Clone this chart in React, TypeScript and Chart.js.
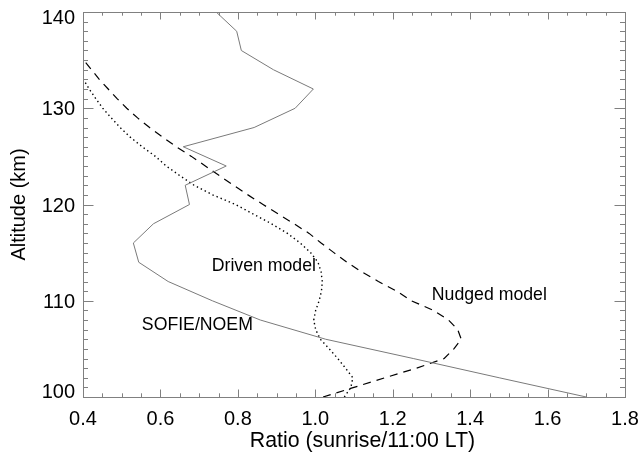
import React, { useEffect, useRef } from "react";
import { Chart, registerables } from "chart.js";

Chart.register(...registerables);

// SOFIE/NOEM observed ratio (solid)
const sofieAltitude = [100, 102, 104, 106, 108, 110, 112, 114, 116, 118, 120, 122, 124, 126, 128, 130, 132, 134, 136, 138, 140];
const sofieRatio = [1.70, 1.475, 1.253, 1.027, 0.858, 0.734, 0.62, 0.544, 0.53, 0.582, 0.675, 0.664, 0.77, 0.659, 0.842, 0.948, 0.995, 0.892, 0.809, 0.797, 0.744];

// Driven model (dotted)
const drivenAltitude = [100, 101, 102, 103, 104, 105, 106, 107, 108, 109, 110, 111, 112, 113, 114, 115, 116, 117, 118, 119, 120, 121, 122, 123, 124, 125, 126, 127, 128, 129, 130, 131, 132, 133, 133.1];
const drivenRatio = [1.075, 1.092, 1.097, 1.078, 1.058, 1.036, 1.013, 1.001, 0.996, 1.001, 1.01, 1.016, 1.018, 1.015, 1.007, 0.988, 0.961, 0.928, 0.887, 0.84, 0.794, 0.735, 0.687, 0.65, 0.615, 0.587, 0.553, 0.522, 0.496, 0.473, 0.451, 0.433, 0.416, 0.401, 0.4];

// Nudged model (dashed)
const nudgedAltitude = [100, 101, 102, 103, 104, 105, 106, 107, 108, 109, 110, 111, 112, 113, 114, 115, 116, 117, 118, 119, 120, 121, 122, 123, 124, 125, 126, 127, 128, 129, 130, 131, 132, 133, 134, 135];
const nudgedRatio = [1.02, 1.10, 1.18, 1.262, 1.333, 1.358, 1.377, 1.368, 1.344, 1.305, 1.248, 1.21, 1.163, 1.12, 1.082, 1.048, 1.015, 0.984, 0.945, 0.905, 0.865, 0.826, 0.789, 0.752, 0.716, 0.68, 0.641, 0.606, 0.572, 0.541, 0.513, 0.488, 0.465, 0.442, 0.422, 0.402];

const xTickValues = [0.4, 0.6, 0.8, 1.0, 1.2, 1.4, 1.6, 1.8];
const xTickLabels = ["0.4", "0.6", "0.8", "1.0", "1.2", "1.4", "1.6", "1.8"];
const yTickValues = [100, 110, 120, 130, 140];
const yTickLabels = ["100", "110", "120", "130", "140"];

const xTitle = "Ratio (sunrise/11:00 LT)";
const yTitle = "Altitude (km)";

const seriesLabels = ["SOFIE/NOEM", "Driven model", "Nudged model"];

const FONT = "'Liberation Sans', Arial, Helvetica, sans-serif";
const AXIS_COLOR = "#808080";

const toPoints = (xs: number[], ys: number[]) => xs.map((v, i) => ({ x: v, y: ys[i] }));

const idlAxesPlugin = {
  id: "idlAxes",
  afterDraw(chart: any) {
    const ctx = chart.ctx as CanvasRenderingContext2D;
    const xs = chart.scales.x;
    const ys = chart.scales.y;
    const { left, right, top, bottom } = chart.chartArea;
    ctx.save();
    ctx.strokeStyle = AXIS_COLOR;
    ctx.lineWidth = 1;
    ctx.strokeRect(Math.round(left) + 0.5, Math.round(top) + 0.5, Math.round(right - left), Math.round(bottom - top));

    const xMaj = 7.5, xMin = 3.7, yMaj = 10.5, yMin = 5;
    ctx.beginPath();
    for (let i = 0; i <= 28; i++) {
      const v = 0.4 + i * 0.05;
      const px = Math.round(xs.getPixelForValue(v)) + 0.5;
      const len = i % 4 === 0 ? xMaj : xMin;
      ctx.moveTo(px, bottom);
      ctx.lineTo(px, bottom - len);
      ctx.moveTo(px, top);
      ctx.lineTo(px, top + len);
    }
    for (let a = 100; a <= 140; a++) {
      const py = Math.round(ys.getPixelForValue(a)) + 0.5;
      const len = a % 10 === 0 ? yMaj : yMin;
      ctx.moveTo(left, py);
      ctx.lineTo(left + len, py);
      ctx.moveTo(right, py);
      ctx.lineTo(right - len, py);
    }
    ctx.stroke();

    ctx.fillStyle = "#000";
    ctx.font = `20px ${FONT}`;
    ctx.textBaseline = "alphabetic";
    ctx.textAlign = "center";
    xTickValues.forEach((v, i) => {
      ctx.fillText(xTickLabels[i], xs.getPixelForValue(v), bottom + 28);
    });
    ctx.textAlign = "right";
    yTickValues.forEach((v, i) => {
      let py = ys.getPixelForValue(v) + 7.2;
      if (i === 0) py = ys.getPixelForValue(v) + 0.5;
      if (i === yTickValues.length - 1) py = ys.getPixelForValue(v) + 11.5;
      ctx.fillText(yTickLabels[i], left - 8, py);
    });

    ctx.textAlign = "center";
    ctx.font = `21.3px ${FONT}`;
    ctx.fillText(xTitle, (left + right) / 2 + 8.5, bottom + 50);
    ctx.save();
    ctx.translate(25, (top + bottom) / 2);
    ctx.rotate(-Math.PI / 2);
    ctx.font = `20px ${FONT}`;
    ctx.fillText(yTitle, 0, 0);
    ctx.restore();

    ctx.font = `17.7px ${FONT}`;
    ctx.textAlign = "left";
    ctx.fillText(seriesLabels[0], xs.getPixelForValue(0.552), ys.getPixelForValue(107.0));
    ctx.fillText(seriesLabels[1], xs.getPixelForValue(0.7326), ys.getPixelForValue(113.08));
    ctx.fillText(seriesLabels[2], xs.getPixelForValue(1.301), ys.getPixelForValue(110.04));
    ctx.restore();
  },
};

export default function App() {
  const ref = useRef<HTMLCanvasElement | null>(null);
  useEffect(() => {
    if (!ref.current) return;
    const chart = new Chart(ref.current, {
      type: "scatter",
      data: {
        datasets: [
          {
            label: seriesLabels[0],
            data: toPoints(sofieRatio, sofieAltitude),
            showLine: true,
            borderColor: "#7a7a7a",
            borderWidth: 1,
            pointRadius: 0,
            tension: 0,
          },
          {
            label: seriesLabels[1],
            data: toPoints(drivenRatio, drivenAltitude),
            showLine: true,
            borderColor: "#000",
            borderWidth: 1.4,
            borderDash: [1.4, 3],
            pointRadius: 0,
            tension: 0,
          },
          {
            label: seriesLabels[2],
            data: toPoints(nudgedRatio, nudgedAltitude),
            showLine: true,
            borderColor: "#000",
            borderWidth: 1.2,
            borderDash: [8, 6],
            pointRadius: 0,
            tension: 0,
          },
        ],
      },
      options: {
        responsive: false,
        animation: false,
        devicePixelRatio: 1,
        layout: { padding: { left: 83, right: 17, top: 12, bottom: 56 } },
        plugins: { legend: { display: false }, tooltip: { enabled: false } },
        scales: {
          x: { type: "linear", min: 0.4, max: 1.8, display: false },
          y: { type: "linear", min: 100, max: 140, display: false },
        },
      },
      plugins: [idlAxesPlugin],
    });
    return () => chart.destroy();
  }, []);
  return (
    <div style={{ position: "fixed", left: 0, top: 0, width: 642, height: 453, background: "#fff" }}>
      <canvas ref={ref} width={642} height={453} style={{ display: "block" }} />
    </div>
  );
}
